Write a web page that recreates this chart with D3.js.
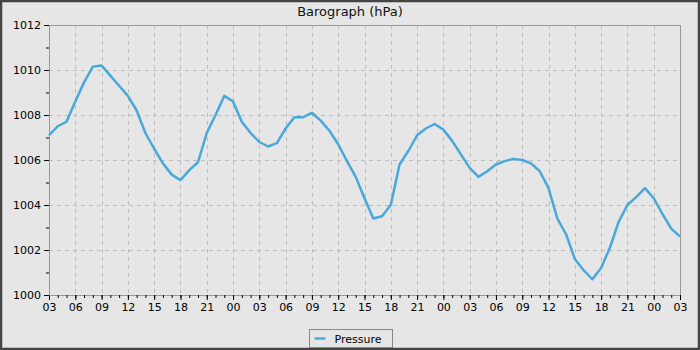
<!DOCTYPE html>
<html>
<head>
<meta charset="utf-8">
<script src="https://cdn.jsdelivr.net/npm/d3@7"></script>
<style>
  body { margin: 0; background: #fff; }
  svg { display: block; font-family: "DejaVu Sans", sans-serif; }
</style>
</head>
<body>
<div id="chart"></div>
<script>
// hourly readings, starting 03:00 on day 1
var startTime = new Date(2024, 0, 1, 3, 0);
var pressure = [
  1007.1, 1007.5, 1007.7, 1008.6, 1009.45, 1010.15, 1010.2, 1009.75, 1009.3, 1008.85,
  1008.2, 1007.2, 1006.5, 1005.85, 1005.35, 1005.1, 1005.55, 1005.9, 1007.2, 1008.0,
  1008.85, 1008.6, 1007.7, 1007.2, 1006.8, 1006.6, 1006.75, 1007.4, 1007.9, 1007.9,
  1008.1, 1007.75, 1007.3, 1006.7, 1005.95, 1005.25, 1004.3, 1003.4, 1003.5, 1004.0,
  1005.8, 1006.4, 1007.1, 1007.4, 1007.6, 1007.35, 1006.85, 1006.25, 1005.65, 1005.25,
  1005.5, 1005.8, 1005.95, 1006.05, 1006.0, 1005.85, 1005.5, 1004.75, 1003.4, 1002.7,
  1001.6, 1001.1, 1000.7, 1001.2, 1002.1, 1003.25, 1004.0, 1004.35, 1004.75, 1004.3,
  1003.6, 1002.95, 1002.6
];
var yTicks = [1000, 1002, 1004, 1006, 1008, 1010, 1012];
var yMinor = [1001, 1003, 1005, 1007, 1009, 1011];
var title = "Barograph (hPa)";
var seriesName = "Pressure";

var W = 700, H = 350;
var margin = {top: 25, right: 20, bottom: 55, left: 49},
    width = W - margin.left - margin.right,
    height = H - margin.top - margin.bottom;

var data = pressure.map(function(v, i) {
  return {t: d3.timeHour.offset(startTime, i), v: v};
});

var svg = d3.select("#chart").append("svg")
  .attr("width", W)
  .attr("height", H);

// background + outer frame
svg.append("rect")
  .attr("x", 0).attr("y", 0).attr("width", W).attr("height", H)
  .attr("fill", "#e6e6e6");
svg.append("rect")
  .attr("x", 1).attr("y", 1).attr("width", W - 2).attr("height", H - 2)
  .attr("fill", "none").attr("stroke", "#444").attr("stroke-width", 2.5);

svg.append("text")
  .attr("x", W / 2).attr("y", 16)
  .attr("text-anchor", "middle")
  .style("font-size", "13px")
  .attr("fill", "#111")
  .text(title);

var g = svg.append("g")
  .attr("transform", "translate(" + margin.left + "," + margin.top + ")");

var x = d3.scaleTime()
  .domain([data[0].t, data[data.length - 1].t])
  .range([0, width]);

var y = d3.scaleLinear()
  .domain([1000, 1012])
  .range([height, 0]);

var majorX = x.ticks(d3.timeHour.every(3));
var minorX = x.ticks(d3.timeHour.every(1));

// grid
g.append("g").selectAll("line")
  .data(majorX.slice(1, -1))
  .enter().append("line")
    .attr("x1", function(d) { return Math.round(x(d)) + 0.5; })
    .attr("x2", function(d) { return Math.round(x(d)) + 0.5; })
    .attr("y1", 0).attr("y2", height)
    .attr("stroke", "#bbb").attr("stroke-dasharray", "4,4");

g.append("g").selectAll("line")
  .data(yTicks.slice(1, -1))
  .enter().append("line")
    .attr("y1", function(d) { return Math.round(y(d)) + 0.5; })
    .attr("y2", function(d) { return Math.round(y(d)) + 0.5; })
    .attr("x1", 0).attr("x2", width)
    .attr("stroke", "#bbb").attr("stroke-dasharray", "4,4");

// plot frame
g.append("rect")
  .attr("x", 0.5).attr("y", 0.5).attr("width", width).attr("height", height)
  .attr("fill", "none").attr("stroke", "#999");

// x axis
var xAxis = g.append("g")
  .attr("transform", "translate(0," + height + ")")
  .call(d3.axisBottom(x).tickValues(majorX).tickFormat(d3.timeFormat("%H")).tickSize(5).tickPadding(3));
g.append("g")
  .attr("transform", "translate(0," + height + ")")
  .call(d3.axisBottom(x).tickValues(minorX).tickFormat("").tickSize(3))
  .select(".domain").remove();

// y axis
var yAxis = g.append("g")
  .call(d3.axisLeft(y).tickValues(yTicks).tickFormat(d3.format("d")).tickSize(5).tickPadding(3));
g.append("g")
  .call(d3.axisLeft(y).tickValues(yMinor).tickFormat("").tickSize(3))
  .select(".domain").remove();

g.selectAll(".domain").attr("stroke", "#999");
g.selectAll(".tick line").attr("stroke", "#000");
g.selectAll(".tick text")
  .style("font-size", "11px")
  .style("font-family", "DejaVu Sans, sans-serif")
  .attr("fill", "#000");

// line
var line = d3.line()
  .x(function(d) { return x(d.t); })
  .y(function(d) { return y(d.v); });

g.append("path")
  .datum(data)
  .attr("fill", "none")
  .attr("stroke", "#48a8da")
  .attr("stroke-width", 2.5)
  .attr("stroke-linejoin", "round")
  .attr("d", line);

// legend
var legend = svg.append("g").attr("transform", "translate(309.5,329.5)");
legend.append("rect")
  .attr("width", 83).attr("height", 18)
  .attr("fill", "#e6e6e6").attr("stroke", "#888");
legend.append("line")
  .attr("x1", 5).attr("x2", 16).attr("y1", 9).attr("y2", 9)
  .attr("stroke", "#48a8da").attr("stroke-width", 2.5);
legend.append("text")
  .attr("x", 25).attr("y", 13)
  .style("font-size", "11px")
  .attr("fill", "#000")
  .text(seriesName);
</script>
</body>
</html>
